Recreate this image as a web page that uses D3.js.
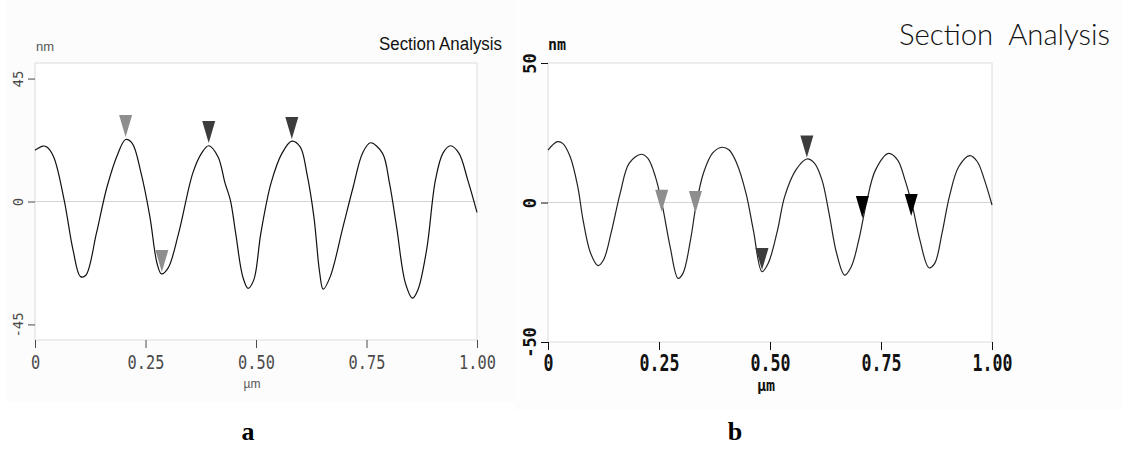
<!DOCTYPE html>
<html>
<head>
<meta charset="utf-8">
<script src="https://cdn.jsdelivr.net/npm/d3@7"></script>
<style>
  html, body { margin: 0; padding: 0; background: #fff; }
  svg { display: block; }
</style>
</head>
<body>
<div id="chart"></div>
<script>
// profile a (x in µm, height in nm)
const aX = [0, 0.018, 0.026, 0.042, 0.066, 0.086, 0.103, 0.115, 0.139, 0.163, 0.188, 0.205, 0.220, 0.240, 0.260, 0.276, 0.286, 0.301, 0.325, 0.357, 0.377, 0.393, 0.414, 0.430, 0.442, 0.454, 0.470, 0.482, 0.495, 0.511, 0.534, 0.559, 0.581, 0.600, 0.615, 0.631, 0.644, 0.652, 0.668, 0.697, 0.720, 0.741, 0.759, 0.786, 0.802, 0.818, 0.838, 0.854, 0.866, 0.886, 0.906, 0.923, 0.940, 0.959, 0.979, 1.0];
const aY = [18.8, 20.3, 20, 16.4, 0.5, -17.7, -27.5, -27, -11.6, 5.4, 17.7, 22.7, 21.3, 10.4, -5.6, -22.6, -26.5, -24.4, -11.6, 10.4, 17.7, 20.4, 16.4, 6.7, 0.5, -11.6, -27.5, -31.8, -28.7, -11.6, 6.7, 17.7, 22.1, 20, 10.4, -5.6, -26, -32.1, -27.5, -9.2, 5.4, 17.7, 21.5, 17.7, 6.7, -9.2, -29.9, -35.4, -32.5, -17.7, 7.9, 17.7, 20.4, 17.7, 7.9, -4];

// profile b
const bX = [0, 0.021, 0.033, 0.05, 0.067, 0.079, 0.096, 0.1125, 0.125, 0.142, 0.1625, 0.183, 0.21, 0.225, 0.242, 0.258, 0.275, 0.293, 0.304, 0.321, 0.333, 0.35, 0.371, 0.392, 0.408, 0.425, 0.446, 0.4625, 0.482, 0.496, 0.517, 0.533, 0.558, 0.583, 0.6, 0.617, 0.633, 0.65, 0.668, 0.683, 0.7, 0.717, 0.7375, 0.767, 0.7875, 0.804, 0.821, 0.8375, 0.858, 0.871, 0.8875, 0.904, 0.925, 0.95, 0.967, 0.983, 1.0];
const bY = [18.8, 21.8, 21.2, 16.4, 5.7, -6.3, -18.2, -22.6, -20.6, -11, 3.3, 14.1, 17.3, 15.8, 9.2, -1.5, -15.8, -27.2, -25.4, -13.4, -1.5, 10.5, 17.8, 19.8, 18.8, 14.1, 3.3, -9.9, -24.8, -21.8, -9.9, 2.1, 11.6, 15.6, 14.1, 8.1, -3.9, -18.2, -26, -23, -13.4, -0.3, 11.6, 17.6, 15.2, 8.1, -1.5, -13.4, -23.4, -21.8, -11, 2.1, 12.8, 16.8, 14.6, 8.1, -0.9];

// cursor markers
const aMarkX = [0.205, 0.287, 0.393, 0.581];
const aMarkY = [23.6, -25.8, 21.4, 22.9];
const aMarkShade = ['#8e8e8e', '#8e8e8e', '#3c3c3c', '#3c3c3c'];

const bMarkX = [0.256, 0.332, 0.482, 0.583, 0.708, 0.818];
const bMarkY = [-3.3, -3.8, -24.2, 16.1, -5.6, -4.8];
const bMarkShade = ['#8e8e8e', '#8e8e8e', '#3c3c3c', '#3c3c3c', '#000000', '#000000'];

const xTicks = [0, 0.25, 0.5, 0.75, 1];
const aYTicks = [-45, 0, 45];
const bYTicks = [-50, 0, 50];

const svg = d3.select('#chart')
  .append('svg')
  .attr('width', 1123)
  .attr('height', 456);

// faint background of the two screenshots
svg.append('rect').attr('x', 6).attr('y', 0).attr('width', 509).attr('height', 402).attr('fill', '#fcfcfc');
svg.append('rect').attr('x', 515).attr('y', 0).attr('width', 608).attr('height', 410).attr('fill', '#fdfdfd');

const drawPanel = (props) => {
  const {
    xs, ys, markX, markY, markShade, yTicks,
    xRange, yDomain, yRange,
    bold, tickColor, lineColor,
  } = props;

  const x = d3.scaleLinear().domain([0, 1]).range(xRange);
  const y = d3.scaleLinear().domain(yDomain).range(yRange);
  const g = svg.append('g');

  // frame + zero line
  g.append('rect')
    .attr('x', xRange[0])
    .attr('y', yRange[1])
    .attr('width', xRange[1] - xRange[0])
    .attr('height', yRange[0] - yRange[1])
    .attr('fill', '#fff')
    .attr('stroke', '#dcdcdc');

  g.append('line')
    .attr('x1', xRange[0]).attr('x2', xRange[1])
    .attr('y1', y(0)).attr('y2', y(0))
    .attr('stroke', '#d4d4d4');

  // x axis
  const xAxis = g.append('g')
    .attr('transform', `translate(0,${yRange[0]})`)
    .call(d3.axisBottom(x)
      .tickValues(xTicks)
      .tickSize(8)
      .tickFormat(d => d === 0 ? '0' : d.toFixed(2)));
  xAxis.select('.domain').remove();
  xAxis.selectAll('line').attr('stroke', tickColor);
  xAxis.selectAll('text')
    .attr('y', 29)
    .attr('dy', 0)
    .attr('fill', tickColor)
    .style('font-family', 'DejaVu Sans Mono')
    .style('font-size', bold ? '23px' : '20px')
    .style('font-weight', bold ? 'bold' : 'normal')
    .attr('textLength', d => (d === 0 ? 1 : 4) * (bold ? 10 : 9.2))
    .attr('lengthAdjust', 'spacingAndGlyphs');

  // y axis
  const yAxis = g.append('g')
    .attr('transform', `translate(${xRange[0]},0)`)
    .call(d3.axisLeft(y).tickValues(yTicks).tickSize(7));
  yAxis.select('.domain').remove();
  yAxis.selectAll('line').attr('stroke', tickColor);
  yAxis.selectAll('text')
    .attr('transform', 'rotate(-90)')
    .attr('x', 0)
    .attr('y', -12)
    .attr('dy', 0)
    .attr('text-anchor', 'middle')
    .attr('fill', tickColor)
    .style('font-family', 'DejaVu Sans Mono')
    .style('font-size', bold ? '17px' : '14px')
    .style('font-weight', bold ? 'bold' : 'normal')
    .text(d => String(d));

  // profile line
  const line = d3.line()
    .x((d, i) => x(xs[i]))
    .y(d => y(d))
    .curve(d3.curveCatmullRom.alpha(0.5));

  g.append('path')
    .datum(ys)
    .attr('d', line)
    .attr('fill', 'none')
    .attr('stroke', lineColor)
    .attr('stroke-width', 1.2);

  // cursor triangles
  const triW = 13;
  const triH = 22;
  g.selectAll('.marker')
    .data(markX)
    .enter()
    .append('path')
    .attr('class', 'marker')
    .attr('d', (d, i) => {
      const cx = x(d);
      const tip = y(markY[i]);
      return `M${cx - triW / 2},${tip - triH}L${cx + triW / 2},${tip - triH}L${cx},${tip}Z`;
    })
    .attr('fill', (d, i) => markShade[i]);

  return { x, y };
};

drawPanel({
  xs: aX, ys: aY, markX: aMarkX, markY: aMarkY, markShade: aMarkShade, yTicks: aYTicks,
  xRange: [35, 477], yDomain: [-50.7, 50.7], yRange: [340, 63],
  bold: false, tickColor: '#4a4a4a', lineColor: '#111',
});

drawPanel({
  xs: bX, ys: bY, markX: bMarkX, markY: bMarkY, markShade: bMarkShade, yTicks: bYTicks,
  xRange: [548, 992], yDomain: [-50, 50], yRange: [342, 63],
  bold: true, tickColor: '#111', lineColor: '#222',
});

// titles and units
svg.append('text')
  .attr('x', 379).attr('y', 50)
  .attr('textLength', 123).attr('lengthAdjust', 'spacingAndGlyphs')
  .style('font-family', 'Liberation Sans, Arial, sans-serif')
  .style('font-size', '18px')
  .attr('fill', '#111')
  .text('Section Analysis');

svg.append('text')
  .attr('x', 899).attr('y', 45)
  .attr('textLength', 211).attr('lengthAdjust', 'spacingAndGlyphs')
  .style('font-family', 'Lato, "DejaVu Sans", sans-serif')
  .style('font-weight', 300)
  .style('font-size', '30px')
  .style('white-space', 'pre')
  .attr('fill', '#111')
  .text('Section  Analysis');

svg.append('text')
  .attr('x', 36).attr('y', 51)
  .style('font-family', 'Liberation Sans, Arial, sans-serif')
  .style('font-size', '13px')
  .attr('fill', '#555')
  .text('nm');

svg.append('text')
  .attr('x', 252).attr('y', 388)
  .attr('text-anchor', 'middle')
  .style('font-family', 'Liberation Sans, Arial, sans-serif')
  .style('font-size', '12px')
  .attr('fill', '#555')
  .text('µm');

svg.append('text')
  .attr('x', 548).attr('y', 50)
  .style('font-family', 'DejaVu Sans Mono')
  .style('font-size', '15px')
  .style('font-weight', 'bold')
  .attr('fill', '#111')
  .text('nm');

svg.append('text')
  .attr('x', 766).attr('y', 391)
  .attr('text-anchor', 'middle')
  .style('font-family', 'DejaVu Sans Mono')
  .style('font-size', '15px')
  .style('font-weight', 'bold')
  .attr('fill', '#111')
  .text('µm');

// panel letters
svg.append('text')
  .attr('x', 248).attr('y', 440)
  .attr('text-anchor', 'middle')
  .style('font-family', 'Liberation Serif, Times New Roman, serif')
  .style('font-size', '26px')
  .style('font-weight', 'bold')
  .attr('fill', '#000')
  .text('a');

svg.append('text')
  .attr('x', 735).attr('y', 440)
  .attr('text-anchor', 'middle')
  .style('font-family', 'Liberation Serif, Times New Roman, serif')
  .style('font-size', '26px')
  .style('font-weight', 'bold')
  .attr('fill', '#000')
  .text('b');
</script>
</body>
</html>
